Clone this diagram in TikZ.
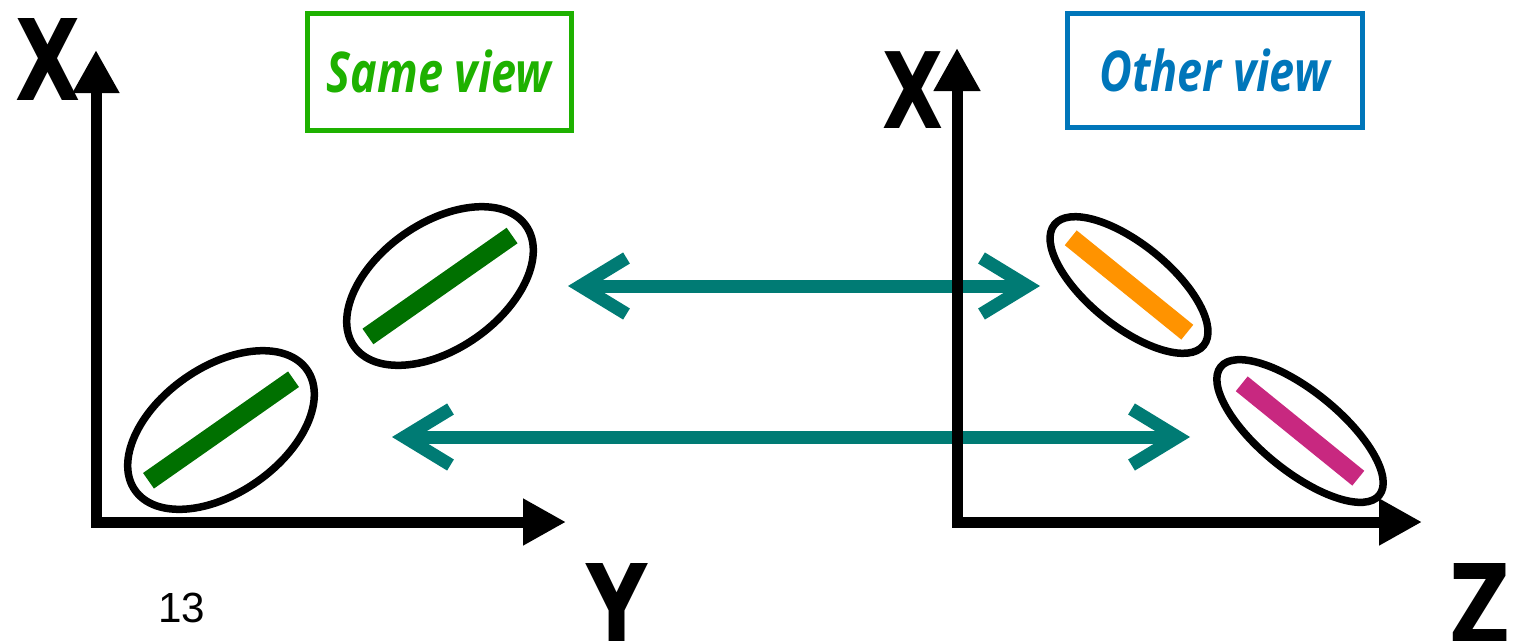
\documentclass[tikz,border=0pt]{standalone}
\usepackage{fontspec}
\usepackage{tikz}
\usetikzlibrary{arrows.meta}
\newfontfamily\axisfont{DejaVu Sans}[FakeStretch=0.75]
\newfontfamily\viewfont{Open Sans}[FakeStretch=0.8]
\newfontfamily\pagefont{Liberation Sans}
\definecolor{bargreen}{RGB}{0,112,0}
\definecolor{barorange}{RGB}{255,147,0}
\definecolor{barmagenta}{RGB}{200,40,128}
\definecolor{linkteal}{RGB}{0,123,116}
\definecolor{samegreen}{RGB}{30,177,0}
\definecolor{otherblue}{RGB}{0,118,186}

\begin{document}
\begin{tikzpicture}[
  axis/.style={line width=1.1mm, line join=miter,
    {Triangle[length=4.3mm,width=4.4mm]}-{Triangle[length=4.3mm,width=4.4mm]}},
  axislabel/.style={anchor=base, inner sep=0pt,
    font=\axisfont\bfseries\fontsize{32}{32}\selectfont},
  viewbox/.style={draw, line width=0.5mm, inner sep=0pt,
    font=\viewfont\bfseries\itshape\fontsize{16}{16}\selectfont},
  ring/.style={draw=black, line width=0.75mm},
  bar/.style={line width=1.9mm},
  link/.style={draw=linkteal, line width=1.3mm, line cap=round, line join=round,
    {Straight Barb[length=4.6mm,width=5.6mm]}-{Straight Barb[length=4.6mm,width=5.6mm]}}
]
  \useasboundingbox (0,0) rectangle (15.16,6.4);
  \coordinate (a1l) at (5.68,3.54);
  \coordinate (a1r) at (10.40,3.54);
  \coordinate (a2l) at (3.92,2.03);
  \coordinate (a2r) at (11.90,2.03);
  \draw[link] (a1l) -- (a1r);
  \draw[link] (a2l) -- (a2r);
  \begin{scope}
    \coordinate (o1) at (0.96,1.18);
    \coordinate (x1) at (0.96,5.90);
    \coordinate (y1) at (5.66,1.18);
    \draw[axis] (x1) -- (o1) -- (y1);
    \node[axislabel] (xlab1) at (0.48,5.40) {X};
    \node[axislabel] (ylab) at (6.17,-0.05) {Y};
    \begin{scope}[shift={(2.21,2.10)}, rotate=35]
      \draw[ring] (0,0) ellipse [x radius=1.05, y radius=0.63];
      \draw[bar, bargreen] (-0.885,0) -- (0.885,0);
    \end{scope}
    \begin{scope}[shift={(4.40,3.54)}, rotate=35]
      \draw[ring] (0,0) ellipse [x radius=1.05, y radius=0.63];
      \draw[bar, bargreen] (-0.88,0) -- (0.88,0);
    \end{scope}
  \end{scope}
  \begin{scope}
    \coordinate (o2) at (9.57,1.18);
    \coordinate (x2) at (9.57,5.92);
    \coordinate (z2) at (14.22,1.18);
    \draw[axis] (x2) -- (o2) -- (z2);
    \node[axislabel, font=\axisfont\bfseries\fontsize{30}{30}\selectfont] (xlab2) at (9.13,5.12) {X};
    \node[axislabel] (zlab) at (14.80,-0.05) {Z};
    \begin{scope}[shift={(11.29,3.55)}, rotate=-39]
      \draw[ring] (0,0) ellipse [x radius=0.96, y radius=0.41];
      \draw[bar, barorange] (-0.75,0) -- (0.75,0);
    \end{scope}
    \begin{scope}[shift={(13.00,2.09)}, rotate=-39]
      \draw[ring] (0,0) ellipse [x radius=1.02, y radius=0.40];
      \draw[bar, barmagenta] (-0.75,0) -- (0.75,0);
    \end{scope}
  \end{scope}
  \node[viewbox, draw=samegreen, text=samegreen, minimum width=2.64cm, minimum height=1.17cm]
    (same) at (4.39,5.685) {Same view};
  \node[viewbox, draw=otherblue, text=otherblue, minimum width=2.95cm, minimum height=1.14cm]
    (other) at (12.145,5.70) {Other view};
  \node[font=\pagefont\fontsize{12}{12}\selectfont] (page) at (1.82,0.32) {13};
\end{tikzpicture}
\end{document}
